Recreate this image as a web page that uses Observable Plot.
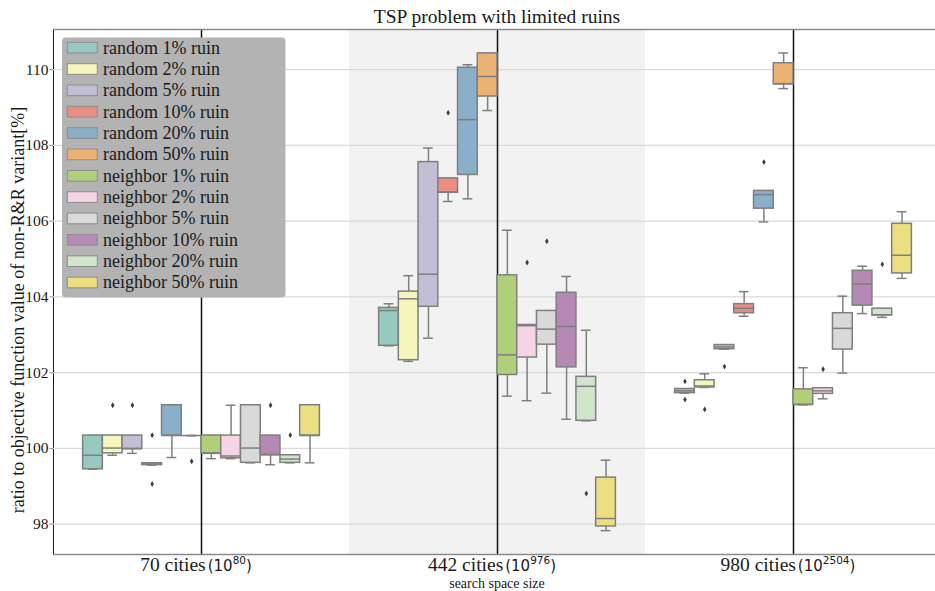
<!DOCTYPE html>
<html>
<head>
<meta charset="utf-8">
<script src="https://cdn.jsdelivr.net/npm/d3@7"></script>
<script src="https://cdn.jsdelivr.net/npm/@observablehq/plot@0.6"></script>
<style>
  html, body { margin: 0; padding: 0; background: #fff; overflow: hidden; }
  #chart { width: 935px; height: 591px; }
</style>
</head>
<body>
<div id="chart"></div>
<script>
// ---------- data ----------
const categories = ["70 cities", "442 cities", "980 cities"];
const exponents = ["80", "976", "2504"];
const series = [
  "random 1% ruin", "random 2% ruin", "random 5% ruin", "random 10% ruin",
  "random 20% ruin", "random 50% ruin", "neighbor 1% ruin", "neighbor 2% ruin",
  "neighbor 5% ruin", "neighbor 10% ruin", "neighbor 20% ruin", "neighbor 50% ruin"
];
const colors = [
  "#96cac1", "#f6f6bc", "#c1bed6", "#ea8e83", "#8aafc9", "#eab375",
  "#afcf78", "#f6d3e5", "#d9d9d9", "#b588b6", "#cfe6ca", "#eddf81"
];
// per series: [lower whisker, q1, median, q3, upper whisker]
const box70 = [
  [99.45, 99.45, 99.82, 100.34, 100.34],
  [99.82, 99.87, 100.01, 100.34, 100.34],
  [99.87, 99.99, 99.99, 100.34, 100.34],
  [99.56, 99.56, 99.59, 99.61, 99.61],
  [99.76, 100.34, 100.34, 101.14, 101.14],
  [100.34, 100.34, 100.34, 100.34, 100.34],
  [99.73, 99.87, 99.87, 100.34, 100.34],
  [99.73, 99.74, 99.80, 100.34, 101.14],
  [99.62, 99.62, 100.01, 101.14, 101.14],
  [99.57, 99.83, 99.83, 100.34, 100.34],
  [99.62, 99.62, 99.72, 99.82, 99.82],
  [99.62, 100.34, 100.34, 101.14, 101.14]
];
const box442 = [
  [102.71, 102.71, 103.64, 103.71, 103.82],
  [102.30, 102.33, 103.95, 104.14, 104.56],
  [102.91, 103.74, 104.60, 107.56, 107.93],
  [106.52, 106.75, 106.77, 107.13, 107.13],
  [106.59, 107.22, 108.68, 110.05, 110.13],
  [108.92, 109.29, 109.82, 110.43, 110.43],
  [101.38, 101.94, 102.47, 104.57, 105.76],
  [101.26, 102.40, 103.24, 103.26, 103.26],
  [101.46, 102.74, 103.15, 103.63, 103.63],
  [100.77, 102.14, 103.22, 104.11, 104.54],
  [100.73, 100.73, 101.64, 101.89, 103.12],
  [97.83, 97.94, 98.15, 99.23, 99.69]
];
const box980 = [
  [101.46, 101.46, 101.52, 101.57, 101.57],
  [101.61, 101.61, 101.65, 101.80, 101.97],
  [102.62, 102.62, 102.68, 102.73, 102.73],
  [103.49, 103.57, 103.70, 103.81, 104.14],
  [105.98, 106.33, 106.70, 106.80, 106.80],
  [109.50, 109.61, 109.63, 110.17, 110.44],
  [101.15, 101.15, 101.16, 101.56, 102.13],
  [101.31, 101.44, 101.52, 101.59, 101.59],
  [101.99, 102.61, 103.17, 103.57, 104.02],
  [103.56, 103.77, 104.34, 104.69, 104.81],
  [103.46, 103.51, 103.53, 103.69, 103.69],
  [104.49, 104.62, 105.10, 105.93, 106.25]
];
// outliers: [series index, value]
const outliers70 = [[1, 101.14], [2, 101.14], [3, 100.35], [3, 99.06], [5, 99.66], [9, 101.14], [10, 100.35]];
const outliers442 = [[3, 108.86], [7, 104.91], [8, 105.47], [10, 98.81]];
const outliers980 = [[0, 101.77], [0, 101.29], [1, 101.03], [2, 102.16], [4, 107.56], [7, 102.09], [10, 104.86]];
const yTicks = [98, 100, 102, 104, 106, 108, 110];
const yDomain = [97.2, 111.06];
const title = "TSP problem with limited ruins";
const yLabel = "ratio to objective function value of non-R&R variant[%]";
const xLabel = "search space size";

// ---------- tables ----------
const boxes = [box70, box442, box980];
const outs = [outliers70, outliers442, outliers980];
const rows = [];
categories.forEach((cat, ci) => boxes[ci].forEach((b, si) => rows.push({
  cat, series: series[si], lo: b[0], q1: b[1], med: b[2], q3: b[3], hi: b[4]
})));
const outRows = [];
categories.forEach((cat, ci) => outs[ci].forEach(([si, v]) => outRows.push({cat, series: series[si], value: v})));

const edge = "#7f7f7f";
const spine = "#8a8a8a";
const serif = "'Liberation Serif', 'Times New Roman', serif";
const sans = "'DejaVu Sans', sans-serif";

const thinDiamond = {
  draw(context, size) {
    const s = Math.sqrt(size);
    const w = s * 0.45, h = s * 0.75;
    context.moveTo(0, -h); context.lineTo(w, 0); context.lineTo(0, h); context.lineTo(-w, 0); context.closePath();
  }
};

const plot = Plot.plot({
  width: 935,
  height: 591,
  marginLeft: 53,
  marginRight: -6,
  marginTop: 29,
  marginBottom: 37,
  style: {fontFamily: serif, fontSize: "15.5px", background: "#fff", color: "#1a1a1a"},
  fx: {domain: categories, padding: 0, axis: null, label: null},
  x: {domain: series, paddingInner: 0, paddingOuter: 1.5, round: false, axis: null, label: null},
  y: {domain: yDomain, ticks: yTicks, tickFormat: d => String(d), tickSize: 3.5, tickPadding: 1.5, label: null, line: true},
  color: {domain: series, range: colors},
  marks: [
    Plot.rect([categories[1]], {fx: d => d, fill: "#f2f2f2"}),
    Plot.ruleY(yTicks, {stroke: "#dadada", strokeWidth: 1.3}),
    Plot.ruleX(categories, {fx: d => d, x: null, stroke: "#111", strokeWidth: 1.5}),
    Plot.ruleX(rows, {fx: "cat", x: "series", y1: "lo", y2: "q1", stroke: edge, strokeWidth: 1.5}),
    Plot.ruleX(rows, {fx: "cat", x: "series", y1: "q3", y2: "hi", stroke: edge, strokeWidth: 1.5}),
    Plot.tickY(rows, {fx: "cat", x: "series", y: "lo", stroke: edge, strokeWidth: 1.5, insetLeft: 5, insetRight: 5}),
    Plot.tickY(rows, {fx: "cat", x: "series", y: "hi", stroke: edge, strokeWidth: 1.5, insetLeft: 5, insetRight: 5}),
    Plot.barY(rows, {fx: "cat", x: "series", y1: "q1", y2: "q3", fill: "series", stroke: edge, strokeWidth: 1.5, inset: 0}),
    Plot.tickY(rows, {fx: "cat", x: "series", y: "med", stroke: edge, strokeWidth: 1.5}),
    Plot.dot(outRows, {fx: "cat", x: "series", y: "value", symbol: thinDiamond, r: 2.2, fill: "#3c3c3c", stroke: null}),
    Plot.ruleY(yDomain, {stroke: spine, strokeWidth: 1.3}),
    Plot.text(categories, {fx: d => d, text: d => d, frameAnchor: "bottom", lineAnchor: "bottom", dy: 16.8, dx: -5.5,
      fontSize: 19, fill: "#1a1a1a", className: "catlabel"})
  ]
});
document.getElementById("chart").appendChild(plot);

// ---------- decorations ----------
const svg = d3.select(plot);
svg.selectAll('[aria-label^="y-axis"] path, [aria-label^="y-axis"] line').attr("stroke", spine);

svg.selectAll('.catlabel text, text.catlabel').each(function () {
  const t = d3.select(this);
  const name = t.text();
  const idx = categories.indexOf(name);
  if (idx < 0) return;
  const exp = exponents[idx];
  t.text(null);
  t.append("tspan").attr("font-size", 19.5).text(name);
  t.append("tspan").attr("font-family", sans).attr("font-size", 15).attr("dx", 2).text("(10");
  t.append("tspan").attr("font-family", sans).attr("font-size", 10.5).attr("dy", -7).text(exp);
  t.append("tspan").attr("font-family", sans).attr("font-size", 15).attr("dy", 7).text(")");
});

const deco = svg.append("g").attr("font-family", serif).attr("fill", "#1a1a1a");
deco.append("text").attr("x", 497).attr("y", 23).attr("text-anchor", "middle").attr("font-size", 19.5).text(title);
deco.append("text").attr("transform", "translate(18,310) rotate(-90)").attr("text-anchor", "middle")
  .attr("dominant-baseline", "central").attr("font-size", 18).text(yLabel);
deco.append("text").attr("x", 497).attr("y", 588).attr("text-anchor", "middle").attr("font-size", 14).text(xLabel);

const legend = svg.append("g").attr("font-family", serif).attr("text-anchor", "start");
legend.append("rect").attr("x", 62).attr("y", 37.5).attr("width", 223.5).attr("height", 260).attr("rx", 4).attr("fill", "#b3b3b3");
series.forEach((s, i) => {
  legend.append("rect").attr("x", 67.3).attr("y", 42.3 + i * 21.35).attr("width", 30).attr("height", 10.7)
    .attr("fill", colors[i]).attr("stroke", "#8e8e8e").attr("stroke-width", 1);
  legend.append("text").attr("x", 103).attr("y", 53.5 + i * 21.35).attr("text-anchor", "start")
    .attr("font-size", 18).attr("fill", "#1a1a1a").text(s);
});
</script>
</body>
</html>
